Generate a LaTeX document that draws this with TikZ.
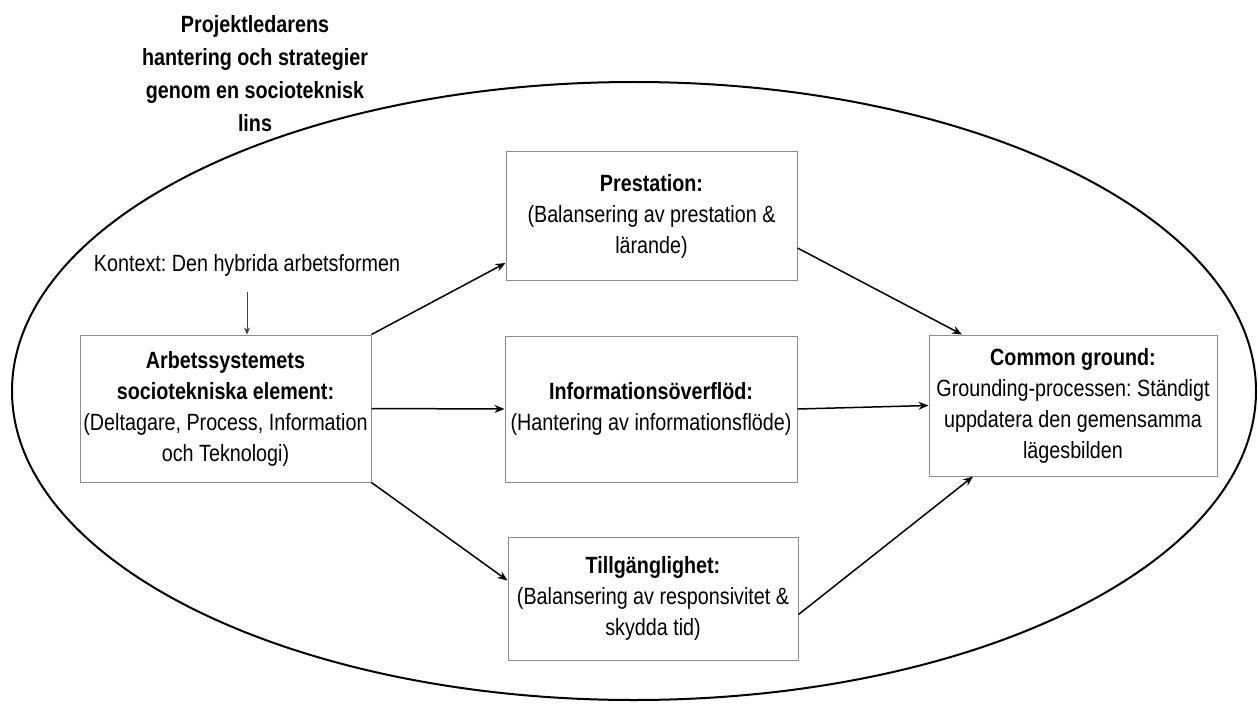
\documentclass[tikz,border=0pt]{standalone}
\usepackage{fontspec}
\setmainfont{Liberation Sans}[FakeStretch=0.84]
\usetikzlibrary{arrows.meta,calc}
\frenchspacing
\begin{document}
\begin{tikzpicture}[x=1pt,y=-1pt,
  txt/.style={font=\fontsize{23.5}{31}\selectfont, align=center, inner sep=0pt},
  box/.style={txt, draw=black!45, line width=1pt, rectangle},
  arr/.style={draw=black, line width=1.5pt, -{Stealth[length=10pt,width=8pt]}},
  karr/.style={draw=black!75, line width=0.9pt, -{Stealth[length=7pt,width=6pt]}},
  lens/.style={draw=black, line width=2pt}]
\useasboundingbox (0,0) rectangle (1258,706);

% enclosing lens
\draw[lens] (634,391) ellipse [x radius=622, y radius=309];

% title
\node[txt, font=\fontsize{23.5}{33}\selectfont\bfseries] (title) at (255,74)
  {Projektledarens\\hantering och strategier\\genom en socioteknisk\\lins};

% context
\node[txt] (kontext) at (247,265) {Kontext: Den hybrida arbetsformen};

% boxes
\node[box, minimum width=291pt, minimum height=147pt] (arb) at (225.5,408.5)
  {\textbf{Arbetssystemets}\\\textbf{sociotekniska element:}\\(Deltagare, Process, Information\\och Teknologi)};
\node[box, minimum width=291pt, minimum height=128pt] (pres) at (651.5,216)
  {\textbf{Prestation:}\\(Balansering av prestation \&\\lärande)};
\node[box, minimum width=292pt, minimum height=146pt] (info) at (651,409)
  {\textbf{Informationsöverflöd:}\\(Hantering av informationsflöde)};
\node[box, minimum width=290pt, minimum height=123pt] (tillg) at (653,598.5)
  {\textbf{Tillgänglighet:}\\(Balansering av responsivitet \&\\skydda tid)};
\node[box, minimum width=288pt, minimum height=141pt] (cg) at (1073,405.5)
  {\textbf{Common ground:}\\Grounding-processen: Ständigt\\uppdatera den gemensamma\\lägesbilden};

% connectors
\draw[karr, shorten <=16pt] (kontext.south) -- (kontext.south |- arb.north);
\draw[arr] (arb.north east) -- ([yshift=-47pt]pres.west);
\draw[arr] (arb.east) -- (info.west);
\draw[arr] (arb.south east) -- ([yshift=18pt]tillg.west);
\draw[arr] ([yshift=-32pt]pres.east) -- ([xshift=-111pt]cg.north);
\draw[arr] (info.east) -- (cg.west);
\draw[arr] ([yshift=-16pt]tillg.east) -- ([xshift=-100pt]cg.south);
\end{tikzpicture}
\end{document}
